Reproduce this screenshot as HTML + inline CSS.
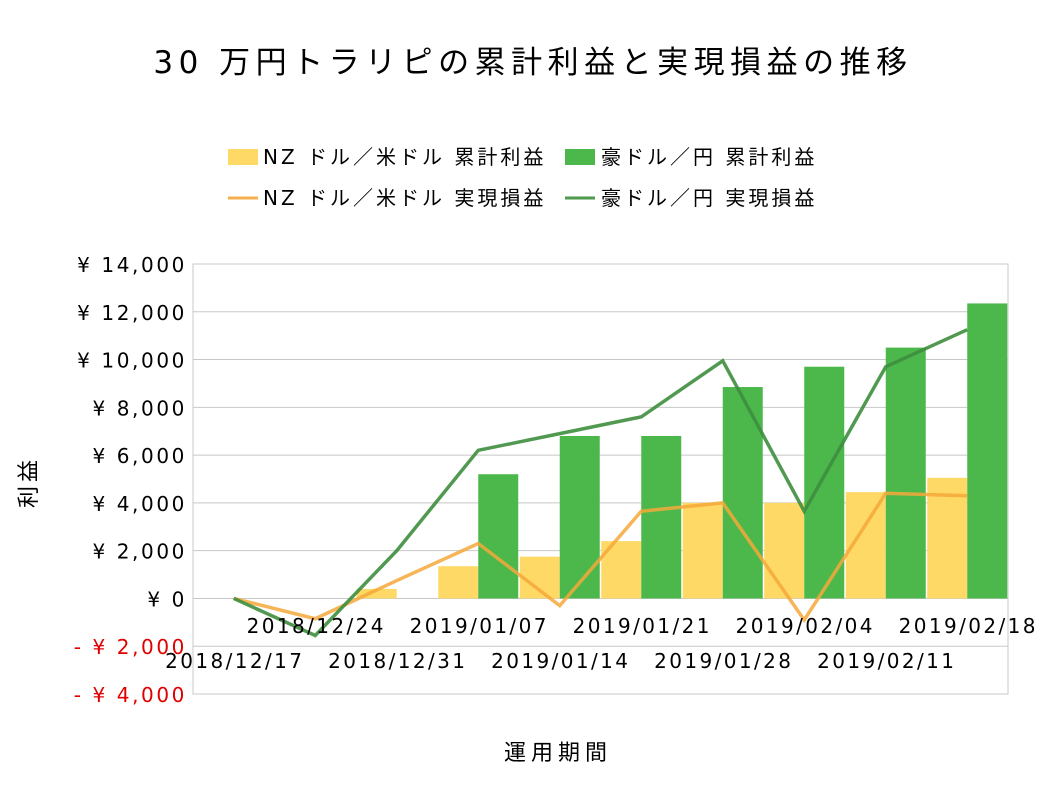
<!DOCTYPE html>
<html><head><meta charset="utf-8">
<style>
body{margin:0;background:#fff;font-family:"DejaVu Sans","Noto Sans CJK JP",sans-serif;}
svg text{font-family:"DejaVu Sans","Noto Sans CJK JP",sans-serif;}
</style></head>
<body>
<svg id="chart" width="1058" height="794">
<text x="533" y="73" text-anchor="middle" font-size="31" letter-spacing="5.5">30 万円トラリピの累計利益と実現損益の推移</text>
<g>
<rect x="228" y="149" width="30" height="16" fill="#FFD966"/>
<text x="263" y="164" font-size="20" letter-spacing="3">NZ ドル／米ドル 累計利益</text>
<rect x="565" y="149" width="30" height="16" fill="#4CB84C"/>
<text x="601" y="164" font-size="20" letter-spacing="3">豪ドル／円 累計利益</text>
<line x1="228" y1="198" x2="258" y2="198" stroke="#F4B04F" stroke-width="3"/>
<text x="263" y="205" font-size="20" letter-spacing="3">NZ ドル／米ドル 実現損益</text>
<line x1="565" y1="198" x2="595" y2="198" stroke="#4E9A4E" stroke-width="3"/>
<text x="601" y="205" font-size="20" letter-spacing="3">豪ドル／円 実現損益</text>
</g>
<text x="36" y="482" font-size="22" letter-spacing="4" text-anchor="middle" transform="rotate(-90 36 482)">利益</text>
<text x="558" y="760" font-size="22" letter-spacing="5" text-anchor="middle">運用期間</text>
<g id="grid"></g><g id="bars"></g><g id="lines"></g><g id="labels"></g>
</svg>
<script>
const categories=["2018/12/17","2018/12/24","2018/12/31","2019/01/07","2019/01/14","2019/01/21","2019/01/28","2019/02/04","2019/02/11","2019/02/18"];
const nzCumulative=[0,0,400,1350,1750,2400,4000,4000,4450,5050];
const audCumulative=[0,0,0,5200,6800,6800,8850,9700,10500,12350];
const nzRealized=[0,-850,750,2300,-300,3650,4000,-900,4400,4300];
const audRealized=[0,-1550,2000,6200,6900,7600,9950,3650,9700,11250];
const yTicks=[-4000,-2000,0,2000,4000,6000,8000,10000,12000,14000];
const yTickLabels=["- ¥ 4,000","- ¥ 2,000","¥ 0","¥ 2,000","¥ 4,000","¥ 6,000","¥ 8,000","¥ 10,000","¥ 12,000","¥ 14,000"];
const NS="http://www.w3.org/2000/svg";
const L=193,R=1008,T=264,B=694,yMin=-4000,yMax=14000;
const y=v=>B-(v-yMin)/(yMax-yMin)*(B-T);
const bw=(R-L)/categories.length;
const xc=i=>L+bw*(i+0.5);
function mk(tag,attrs,parent){const e=document.createElementNS(NS,tag);for(const k in attrs)e.setAttribute(k,attrs[k]);document.getElementById(parent).appendChild(e);return e;}
yTicks.forEach((t,i)=>{
  const g=mk("line",{x1:L,x2:R,y1:y(t),y2:y(t),stroke:"#c8c8c8","stroke-width":1},"grid");
  
  
  const tx=mk("text",{x:187,y:y(t)+8,"text-anchor":"end","font-size":20,"letter-spacing":2.6,fill:t<0?"#e00000":"#000"},"labels");
  tx.textContent=yTickLabels[i];
  
  
});
const frame=mk("rect",{x:L,y:T,width:R-L,height:B-T,fill:"none",stroke:"#c8c8c8"},"grid");


categories.forEach((c,i)=>{
  const b1=mk("rect",{x:xc(i)-40,y:Math.min(y(nzCumulative[i]),y(0)),width:40,height:Math.abs(y(0)-y(nzCumulative[i])),fill:"#FFD966"},"bars");
  
  
  const b2=mk("rect",{x:xc(i),y:Math.min(y(audCumulative[i]),y(0)),width:40,height:Math.abs(y(0)-y(audCumulative[i])),fill:"#4CB84C"},"bars");
  
  
  const tx=mk("text",{x:xc(i)+1,y:i%2?633:668,"text-anchor":"middle","font-size":20,"letter-spacing":2.4},"labels");
  tx.textContent=c;
  
  
});
const pts=a=>a.map((v,i)=>xc(i)+","+y(v)).join(" ");
const l1=mk("polyline",{points:pts(nzRealized),fill:"none",stroke:"#F4A83A","stroke-width":3.5,"stroke-opacity":0.85},"lines");


const l2=mk("polyline",{points:pts(audRealized),fill:"none",stroke:"#3E8E3E","stroke-width":3.5,"stroke-opacity":0.9},"lines");


</script>
</body></html>
